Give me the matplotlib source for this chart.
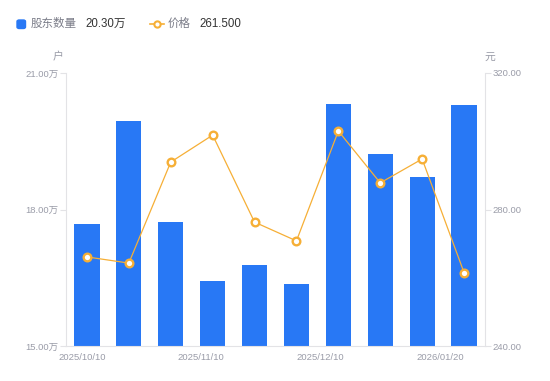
import matplotlib
matplotlib.use("Agg")
import matplotlib.pyplot as plt
from matplotlib.lines import Line2D
from matplotlib.patches import FancyBboxPatch

dates = ["2025/10/10", "2025/10/20", "2025/10/31", "2025/11/10", "2025/11/20",
         "2025/11/30", "2025/12/10", "2025/12/20", "2025/12/31", "2026/01/20"]
holders = [17.68, 19.95, 17.73, 16.43, 16.78, 16.36, 20.32, 19.22, 18.71, 20.30]  # 万户
price = [266.1, 264.3, 293.9, 301.8, 276.3, 270.8, 303.0, 287.8, 294.8, 261.5]
xtick_labels = ["2025/10/10", "2025/11/10", "2025/12/10", "2026/01/20"]
left_ticks = [15.0, 18.0, 21.0]
right_ticks = [240.0, 280.0, 320.0]

BLUE = "#2878F5"
ORANGE = "#F6AF36"
GRAY = "#9A9CA8"
AXC = "#E3E3E6"
CJK = ["Liberation Sans", "Noto Sans CJK SC", "DejaVu Sans"]
plt.rcParams["font.family"] = CJK

fig = plt.figure(figsize=(5.5, 3.81), dpi=100)
ax = fig.add_axes([66/550, 35/381, 419/550, 273/381])
x = list(range(len(dates)))
ax.bar(x, holders, width=0.6, color=BLUE, zorder=2)
ax.set_xlim(-0.5, len(dates) - 0.5)
ax.set_ylim(left_ticks[0], left_ticks[-1])
ax.set_yticks(left_ticks)
ax.set_yticklabels([f"{v:.2f}万" for v in left_ticks])

ax2 = ax.twinx()
ax2.plot(x, price, color=ORANGE, lw=0.9, marker="o", ms=5.5, mfc="white",
         mec=ORANGE, mew=1.7, zorder=3)
ax2.set_ylim(right_ticks[0], right_ticks[-1])
ax2.set_yticks(right_ticks)
ax2.set_yticklabels([f"{v:.2f}" for v in right_ticks])

for a in (ax, ax2):
    for s in a.spines.values():
        s.set_visible(False)
    a.tick_params(axis="y", colors=AXC, labelcolor=GRAY, labelsize=6.8,
                  length=4, width=0.8, pad=1.5)
ax.spines["left"].set_visible(True)
ax.spines["left"].set_color(AXC)
ax.spines["bottom"].set_visible(True)
ax.spines["bottom"].set_color(AXC)
ax2.spines["right"].set_visible(True)
ax2.spines["right"].set_color(AXC)

# x tick labels
xt_pos = [-0.118, 2.72, 5.56, 8.43]
ax.set_xticks(xt_pos)
ax.set_xticklabels(xtick_labels)
ax.tick_params(axis="x", length=0, labelcolor=GRAY, labelsize=6.8, pad=5)

# unit labels
fig.text(58/550, 1 - 57/381, "户", color=GRAY, fontsize=7.8, ha="center", va="center")
fig.text(490/550, 1 - 57/381, "元", color=GRAY, fontsize=7.8, ha="center", va="center")

# legend
ly = 1 - 24/381
fig.add_artist(FancyBboxPatch((17/550, 1 - 28.5/381), 8.5/550, 8.5/381,
                              boxstyle="round,pad=0,rounding_size=0.004",
                              transform=fig.transFigure, color=BLUE))
fig.text(31/550, ly, "股东数量", color="#7A7C88", fontsize=8.3, va="center")
fig.text(85/550, ly, f"{holders[-1]:.2f}万", color="#333333", fontsize=8.3, va="center")
fig.add_artist(Line2D([150/550, 164/550], [ly, ly], transform=fig.transFigure,
                      color=ORANGE, lw=1.2))
fig.add_artist(Line2D([157/550], [ly], transform=fig.transFigure, color=ORANGE,
                      marker="o", ms=4.5, mfc="white", mec=ORANGE, mew=1.5))
fig.text(168/550, ly, "价格", color="#7A7C88", fontsize=8.3, va="center")
fig.text(199/550, ly, f"{price[-1]:.3f}", color="#333333", fontsize=8.3, va="center")

fig.savefig("out.png", dpi=100)
